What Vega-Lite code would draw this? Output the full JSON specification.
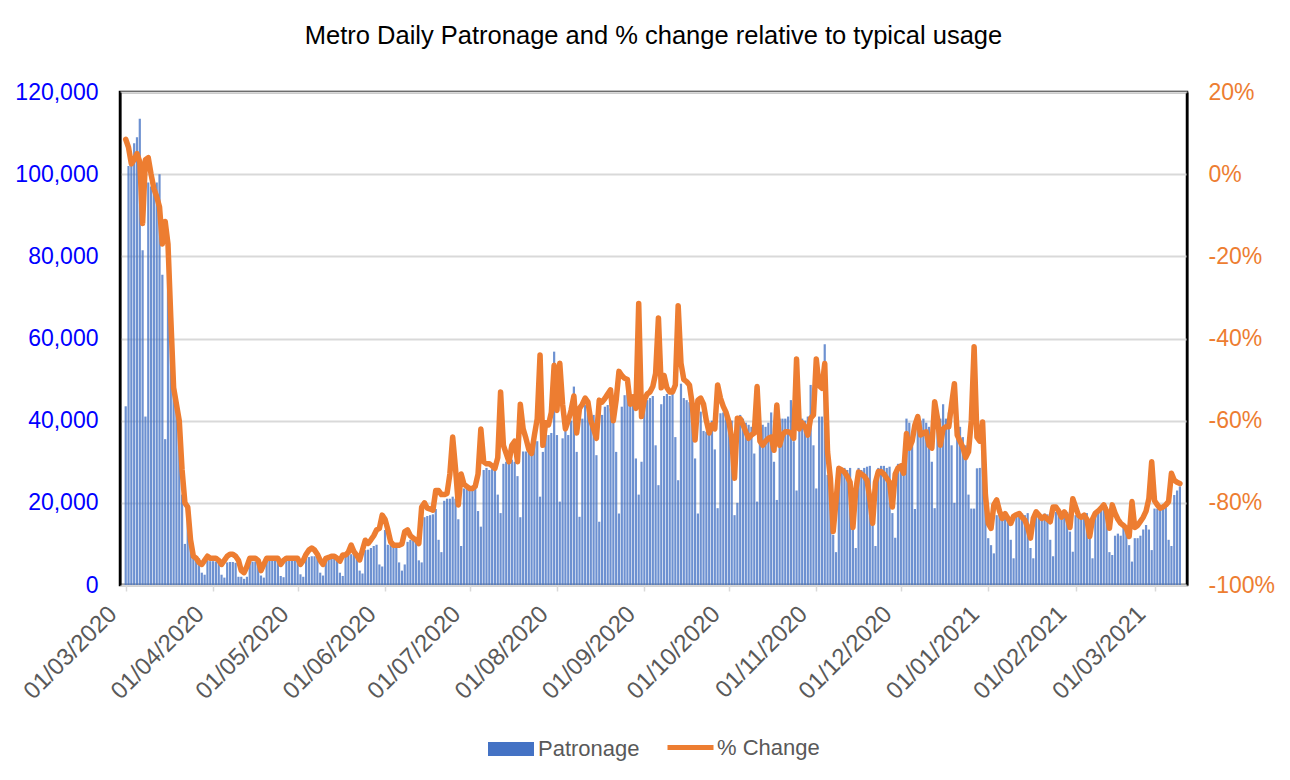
{
  "$schema": "https://vega.github.io/schema/vega-lite/v6.json",
  "width": 1067,
  "height": 493,
  "autosize": {"type": "none"},
  "padding": {"left": 120, "top": 92, "right": 103, "bottom": 195},
  "background": "white",
  "title": {"text": "Metro Daily Patronage and % change relative to typical usage", "font": "Liberation Sans", "fontSize": 25.5, "fontWeight": "normal", "color": "#000000", "frame": "group", "anchor": "middle", "baseline": "alphabetic", "offset": 45, "dy": 33},
  "data": {"values": [
{"date":"2020-03-01","patronage":43500,"pct":8.5},
{"date":"2020-03-02","patronage":102000,"pct":6.5},
{"date":"2020-03-03","patronage":104000,"pct":2.5},
{"date":"2020-03-04","patronage":107500,"pct":3.5},
{"date":"2020-03-05","patronage":109000,"pct":5},
{"date":"2020-03-06","patronage":113500,"pct":3},
{"date":"2020-03-07","patronage":81500,"pct":-12},
{"date":"2020-03-08","patronage":41000,"pct":3.5},
{"date":"2020-03-09","patronage":98000,"pct":4},
{"date":"2020-03-10","patronage":97000,"pct":0},
{"date":"2020-03-11","patronage":96500,"pct":-3.5},
{"date":"2020-03-12","patronage":98000,"pct":-5.5},
{"date":"2020-03-13","patronage":100000,"pct":-8},
{"date":"2020-03-14","patronage":75500,"pct":-17},
{"date":"2020-03-15","patronage":35500,"pct":-11.5},
{"date":"2020-03-16","patronage":80000,"pct":-17},
{"date":"2020-03-17","patronage":64000,"pct":-35},
{"date":"2020-03-18","patronage":47000,"pct":-52},
{"date":"2020-03-19","patronage":44000,"pct":-56},
{"date":"2020-03-20","patronage":40000,"pct":-60},
{"date":"2020-03-21","patronage":22000,"pct":-72},
{"date":"2020-03-22","patronage":10000,"pct":-80},
{"date":"2020-03-23","patronage":19000,"pct":-81},
{"date":"2020-03-24","patronage":11000,"pct":-89},
{"date":"2020-03-25","patronage":7500,"pct":-93},
{"date":"2020-03-26","patronage":7000,"pct":-93.5},
{"date":"2020-03-27","patronage":6500,"pct":-94.5},
{"date":"2020-03-28","patronage":3000,"pct":-95},
{"date":"2020-03-29","patronage":2500,"pct":-94},
{"date":"2020-03-30","patronage":6000,"pct":-93},
{"date":"2020-03-31","patronage":5800,"pct":-93.5},
{"date":"2020-04-01","patronage":5800,"pct":-93.5},
{"date":"2020-04-02","patronage":5700,"pct":-93.5},
{"date":"2020-04-03","patronage":5800,"pct":-94},
{"date":"2020-04-04","patronage":2500,"pct":-95},
{"date":"2020-04-05","patronage":1800,"pct":-94},
{"date":"2020-04-06","patronage":5500,"pct":-93},
{"date":"2020-04-07","patronage":5600,"pct":-92.5},
{"date":"2020-04-08","patronage":5600,"pct":-92.5},
{"date":"2020-04-09","patronage":5400,"pct":-93},
{"date":"2020-04-10","patronage":2000,"pct":-94},
{"date":"2020-04-11","patronage":2000,"pct":-96.5},
{"date":"2020-04-12","patronage":1500,"pct":-97},
{"date":"2020-04-13","patronage":2000,"pct":-95.5},
{"date":"2020-04-14","patronage":5600,"pct":-93.5},
{"date":"2020-04-15","patronage":5700,"pct":-93.5},
{"date":"2020-04-16","patronage":5700,"pct":-93.5},
{"date":"2020-04-17","patronage":5600,"pct":-94},
{"date":"2020-04-18","patronage":2300,"pct":-96.5},
{"date":"2020-04-19","patronage":1800,"pct":-95},
{"date":"2020-04-20","patronage":5800,"pct":-93.5},
{"date":"2020-04-21","patronage":5900,"pct":-93.5},
{"date":"2020-04-22","patronage":5900,"pct":-93.5},
{"date":"2020-04-23","patronage":6000,"pct":-93.5},
{"date":"2020-04-24","patronage":5800,"pct":-93.5},
{"date":"2020-04-25","patronage":2200,"pct":-95},
{"date":"2020-04-26","patronage":1900,"pct":-94},
{"date":"2020-04-27","patronage":6000,"pct":-93.5},
{"date":"2020-04-28","patronage":6100,"pct":-93.5},
{"date":"2020-04-29","patronage":6200,"pct":-93.5},
{"date":"2020-04-30","patronage":6200,"pct":-93.5},
{"date":"2020-05-01","patronage":6000,"pct":-93.5},
{"date":"2020-05-02","patronage":2600,"pct":-95},
{"date":"2020-05-03","patronage":2000,"pct":-94},
{"date":"2020-05-04","patronage":6500,"pct":-92.5},
{"date":"2020-05-05","patronage":6800,"pct":-91.5},
{"date":"2020-05-06","patronage":7000,"pct":-91},
{"date":"2020-05-07","patronage":7000,"pct":-91.5},
{"date":"2020-05-08","patronage":6800,"pct":-92.5},
{"date":"2020-05-09","patronage":3000,"pct":-94},
{"date":"2020-05-10","patronage":2300,"pct":-95},
{"date":"2020-05-11","patronage":6800,"pct":-93.5},
{"date":"2020-05-12","patronage":6800,"pct":-93.3},
{"date":"2020-05-13","patronage":6900,"pct":-93},
{"date":"2020-05-14","patronage":7000,"pct":-93},
{"date":"2020-05-15","patronage":6900,"pct":-93.5},
{"date":"2020-05-16","patronage":3000,"pct":-94.2},
{"date":"2020-05-17","patronage":2200,"pct":-92.7},
{"date":"2020-05-18","patronage":7300,"pct":-92.7},
{"date":"2020-05-19","patronage":7400,"pct":-92},
{"date":"2020-05-20","patronage":7500,"pct":-90.3},
{"date":"2020-05-21","patronage":7400,"pct":-91.9},
{"date":"2020-05-22","patronage":7300,"pct":-92.8},
{"date":"2020-05-23","patronage":3500,"pct":-93.9},
{"date":"2020-05-24","patronage":2800,"pct":-91.5},
{"date":"2020-05-25","patronage":8500,"pct":-89.1},
{"date":"2020-05-26","patronage":8600,"pct":-89.9},
{"date":"2020-05-27","patronage":9000,"pct":-89},
{"date":"2020-05-28","patronage":9500,"pct":-88},
{"date":"2020-05-29","patronage":9800,"pct":-86.6},
{"date":"2020-05-30","patronage":5000,"pct":-86.2},
{"date":"2020-05-31","patronage":4500,"pct":-83},
{"date":"2020-06-01","patronage":13400,"pct":-84},
{"date":"2020-06-02","patronage":9800,"pct":-86.5},
{"date":"2020-06-03","patronage":9700,"pct":-89.5},
{"date":"2020-06-04","patronage":9600,"pct":-90.3},
{"date":"2020-06-05","patronage":9500,"pct":-90.3},
{"date":"2020-06-06","patronage":5500,"pct":-90.3},
{"date":"2020-06-07","patronage":3500,"pct":-90},
{"date":"2020-06-08","patronage":5000,"pct":-87},
{"date":"2020-06-09","patronage":10500,"pct":-86.6},
{"date":"2020-06-10","patronage":11000,"pct":-88},
{"date":"2020-06-11","patronage":10800,"pct":-88.6},
{"date":"2020-06-12","patronage":10500,"pct":-89},
{"date":"2020-06-13","patronage":6000,"pct":-89.9},
{"date":"2020-06-14","patronage":5500,"pct":-81},
{"date":"2020-06-15","patronage":16500,"pct":-80},
{"date":"2020-06-16","patronage":16800,"pct":-81.3},
{"date":"2020-06-17","patronage":17000,"pct":-81.5},
{"date":"2020-06-18","patronage":17200,"pct":-81.8},
{"date":"2020-06-19","patronage":18500,"pct":-77},
{"date":"2020-06-20","patronage":11000,"pct":-77},
{"date":"2020-06-21","patronage":8000,"pct":-78},
{"date":"2020-06-22","patronage":20500,"pct":-78},
{"date":"2020-06-23","patronage":21000,"pct":-77.7},
{"date":"2020-06-24","patronage":21000,"pct":-73},
{"date":"2020-06-25","patronage":21500,"pct":-64},
{"date":"2020-06-26","patronage":21000,"pct":-71.6},
{"date":"2020-06-27","patronage":16000,"pct":-80.5},
{"date":"2020-06-28","patronage":9500,"pct":-73},
{"date":"2020-06-29","patronage":23500,"pct":-75.5},
{"date":"2020-06-30","patronage":24000,"pct":-76},
{"date":"2020-07-01","patronage":24000,"pct":-76.5},
{"date":"2020-07-02","patronage":24000,"pct":-76.5},
{"date":"2020-07-03","patronage":24300,"pct":-76},
{"date":"2020-07-04","patronage":18000,"pct":-73},
{"date":"2020-07-05","patronage":14200,"pct":-62},
{"date":"2020-07-06","patronage":28000,"pct":-70},
{"date":"2020-07-07","patronage":28500,"pct":-70.5},
{"date":"2020-07-08","patronage":28000,"pct":-70.5},
{"date":"2020-07-09","patronage":28300,"pct":-71},
{"date":"2020-07-10","patronage":28500,"pct":-71.6},
{"date":"2020-07-11","patronage":22000,"pct":-69},
{"date":"2020-07-12","patronage":17500,"pct":-53},
{"date":"2020-07-13","patronage":29500,"pct":-66},
{"date":"2020-07-14","patronage":30000,"pct":-68},
{"date":"2020-07-15","patronage":29700,"pct":-70},
{"date":"2020-07-16","patronage":30500,"pct":-66},
{"date":"2020-07-17","patronage":30000,"pct":-65},
{"date":"2020-07-18","patronage":26500,"pct":-70},
{"date":"2020-07-19","patronage":16500,"pct":-56},
{"date":"2020-07-20","patronage":32500,"pct":-62},
{"date":"2020-07-21","patronage":32500,"pct":-64.3},
{"date":"2020-07-22","patronage":33000,"pct":-67},
{"date":"2020-07-23","patronage":34000,"pct":-68},
{"date":"2020-07-24","patronage":35000,"pct":-63.5},
{"date":"2020-07-25","patronage":35000,"pct":-59.5},
{"date":"2020-07-26","patronage":21500,"pct":-44},
{"date":"2020-07-27","patronage":32400,"pct":-66},
{"date":"2020-07-28","patronage":37700,"pct":-60.5},
{"date":"2020-07-29","patronage":36500,"pct":-61},
{"date":"2020-07-30","patronage":37000,"pct":-58},
{"date":"2020-07-31","patronage":56800,"pct":-46.5},
{"date":"2020-08-01","patronage":36500,"pct":-57.5},
{"date":"2020-08-02","patronage":20300,"pct":-46},
{"date":"2020-08-03","patronage":35700,"pct":-56},
{"date":"2020-08-04","patronage":38500,"pct":-62},
{"date":"2020-08-05","patronage":36500,"pct":-60},
{"date":"2020-08-06","patronage":40000,"pct":-57.5},
{"date":"2020-08-07","patronage":48300,"pct":-54},
{"date":"2020-08-08","patronage":32400,"pct":-63},
{"date":"2020-08-09","patronage":16600,"pct":-57},
{"date":"2020-08-10","patronage":40500,"pct":-56},
{"date":"2020-08-11","patronage":43800,"pct":-54.5},
{"date":"2020-08-12","patronage":41800,"pct":-55.5},
{"date":"2020-08-13","patronage":41400,"pct":-60},
{"date":"2020-08-14","patronage":41400,"pct":-62},
{"date":"2020-08-15","patronage":31600,"pct":-64.3},
{"date":"2020-08-16","patronage":15400,"pct":-55},
{"date":"2020-08-17","patronage":41400,"pct":-55.5},
{"date":"2020-08-18","patronage":43400,"pct":-54.6},
{"date":"2020-08-19","patronage":43800,"pct":-53.5},
{"date":"2020-08-20","patronage":43000,"pct":-52.5},
{"date":"2020-08-21","patronage":40500,"pct":-60},
{"date":"2020-08-22","patronage":32400,"pct":-55},
{"date":"2020-08-23","patronage":17400,"pct":-48},
{"date":"2020-08-24","patronage":43400,"pct":-49},
{"date":"2020-08-25","patronage":46200,"pct":-49.7},
{"date":"2020-08-26","patronage":47900,"pct":-50},
{"date":"2020-08-27","patronage":43800,"pct":-56},
{"date":"2020-08-28","patronage":43800,"pct":-54.2},
{"date":"2020-08-29","patronage":30800,"pct":-57},
{"date":"2020-08-30","patronage":22000,"pct":-31.5},
{"date":"2020-08-31","patronage":30000,"pct":-59},
{"date":"2020-09-01","patronage":44000,"pct":-55},
{"date":"2020-09-02","patronage":45000,"pct":-53.5},
{"date":"2020-09-03","patronage":45500,"pct":-53},
{"date":"2020-09-04","patronage":46000,"pct":-51.7},
{"date":"2020-09-05","patronage":34000,"pct":-48.5},
{"date":"2020-09-06","patronage":24300,"pct":-35},
{"date":"2020-09-07","patronage":44000,"pct":-52},
{"date":"2020-09-08","patronage":46000,"pct":-49},
{"date":"2020-09-09","patronage":46500,"pct":-52},
{"date":"2020-09-10","patronage":46000,"pct":-53},
{"date":"2020-09-11","patronage":46500,"pct":-53},
{"date":"2020-09-12","patronage":36000,"pct":-51.3},
{"date":"2020-09-13","patronage":25500,"pct":-32},
{"date":"2020-09-14","patronage":49000,"pct":-46},
{"date":"2020-09-15","patronage":45500,"pct":-50},
{"date":"2020-09-16","patronage":45000,"pct":-50.5},
{"date":"2020-09-17","patronage":44500,"pct":-51.3},
{"date":"2020-09-18","patronage":43000,"pct":-56},
{"date":"2020-09-19","patronage":30800,"pct":-64.7},
{"date":"2020-09-20","patronage":17400,"pct":-55},
{"date":"2020-09-21","patronage":42200,"pct":-54.5},
{"date":"2020-09-22","patronage":37500,"pct":-56},
{"date":"2020-09-23","patronage":37300,"pct":-60},
{"date":"2020-09-24","patronage":37000,"pct":-63},
{"date":"2020-09-25","patronage":40000,"pct":-61},
{"date":"2020-09-26","patronage":33000,"pct":-62},
{"date":"2020-09-27","patronage":18700,"pct":-51.3},
{"date":"2020-09-28","patronage":41800,"pct":-54.5},
{"date":"2020-09-29","patronage":42000,"pct":-56.5},
{"date":"2020-09-30","patronage":41500,"pct":-58},
{"date":"2020-10-01","patronage":41000,"pct":-60.3},
{"date":"2020-10-02","patronage":40000,"pct":-64.3},
{"date":"2020-10-03","patronage":17000,"pct":-74},
{"date":"2020-10-04","patronage":20000,"pct":-59.4},
{"date":"2020-10-05","patronage":41400,"pct":-59.5},
{"date":"2020-10-06","patronage":40500,"pct":-61},
{"date":"2020-10-07","patronage":39500,"pct":-62.7},
{"date":"2020-10-08","patronage":39000,"pct":-64.3},
{"date":"2020-10-09","patronage":38500,"pct":-63.5},
{"date":"2020-10-10","patronage":32000,"pct":-63},
{"date":"2020-10-11","patronage":20300,"pct":-51.7},
{"date":"2020-10-12","patronage":39000,"pct":-65},
{"date":"2020-10-13","patronage":39000,"pct":-66},
{"date":"2020-10-14","patronage":38500,"pct":-65},
{"date":"2020-10-15","patronage":39500,"pct":-64.3},
{"date":"2020-10-16","patronage":42000,"pct":-64},
{"date":"2020-10-17","patronage":30000,"pct":-67.2},
{"date":"2020-10-18","patronage":20700,"pct":-56.2},
{"date":"2020-10-19","patronage":40500,"pct":-66},
{"date":"2020-10-20","patronage":40500,"pct":-63.5},
{"date":"2020-10-21","patronage":40500,"pct":-62.7},
{"date":"2020-10-22","patronage":41000,"pct":-62.7},
{"date":"2020-10-23","patronage":45000,"pct":-63},
{"date":"2020-10-24","patronage":35000,"pct":-64.3},
{"date":"2020-10-25","patronage":23000,"pct":-45},
{"date":"2020-10-26","patronage":40500,"pct":-62},
{"date":"2020-10-27","patronage":40500,"pct":-60.5},
{"date":"2020-10-28","patronage":40000,"pct":-61.5},
{"date":"2020-10-29","patronage":41000,"pct":-63.5},
{"date":"2020-10-30","patronage":48700,"pct":-59.4},
{"date":"2020-10-31","patronage":34000,"pct":-58.6},
{"date":"2020-11-01","patronage":23500,"pct":-45},
{"date":"2020-11-02","patronage":41000,"pct":-51.5},
{"date":"2020-11-03","patronage":41000,"pct":-52.1},
{"date":"2020-11-04","patronage":58600,"pct":-46.1},
{"date":"2020-11-05","patronage":26800,"pct":-67.6},
{"date":"2020-11-06","patronage":21900,"pct":-74},
{"date":"2020-11-07","patronage":12200,"pct":-87},
{"date":"2020-11-08","patronage":8000,"pct":-79.7},
{"date":"2020-11-09","patronage":27500,"pct":-71.6},
{"date":"2020-11-10","patronage":28000,"pct":-72},
{"date":"2020-11-11","patronage":28500,"pct":-72.5},
{"date":"2020-11-12","patronage":28000,"pct":-73.6},
{"date":"2020-11-13","patronage":28500,"pct":-75},
{"date":"2020-11-14","patronage":16000,"pct":-86},
{"date":"2020-11-15","patronage":9000,"pct":-77},
{"date":"2020-11-16","patronage":28500,"pct":-72.5},
{"date":"2020-11-17","patronage":28000,"pct":-73},
{"date":"2020-11-18","patronage":28500,"pct":-73.5},
{"date":"2020-11-19","patronage":28800,"pct":-74.5},
{"date":"2020-11-20","patronage":29000,"pct":-79},
{"date":"2020-11-21","patronage":15000,"pct":-85},
{"date":"2020-11-22","patronage":9500,"pct":-75},
{"date":"2020-11-23","patronage":28500,"pct":-72.4},
{"date":"2020-11-24","patronage":29000,"pct":-72.4},
{"date":"2020-11-25","patronage":29000,"pct":-73},
{"date":"2020-11-26","patronage":28500,"pct":-74},
{"date":"2020-11-27","patronage":28800,"pct":-75},
{"date":"2020-11-28","patronage":17500,"pct":-81},
{"date":"2020-11-29","patronage":11500,"pct":-73},
{"date":"2020-11-30","patronage":29500,"pct":-71.5},
{"date":"2020-12-01","patronage":29500,"pct":-71},
{"date":"2020-12-02","patronage":31000,"pct":-72.8},
{"date":"2020-12-03","patronage":40500,"pct":-63.1},
{"date":"2020-12-04","patronage":39500,"pct":-66.7},
{"date":"2020-12-05","patronage":34000,"pct":-65},
{"date":"2020-12-06","patronage":18500,"pct":-61},
{"date":"2020-12-07","patronage":40500,"pct":-59},
{"date":"2020-12-08","patronage":40000,"pct":-63.5},
{"date":"2020-12-09","patronage":40500,"pct":-63},
{"date":"2020-12-10","patronage":39500,"pct":-62.7},
{"date":"2020-12-11","patronage":38500,"pct":-66},
{"date":"2020-12-12","patronage":30000,"pct":-66.7},
{"date":"2020-12-13","patronage":18700,"pct":-55.4},
{"date":"2020-12-14","patronage":41000,"pct":-59.4},
{"date":"2020-12-15","patronage":40500,"pct":-66},
{"date":"2020-12-16","patronage":44000,"pct":-62},
{"date":"2020-12-17","patronage":40500,"pct":-61.5},
{"date":"2020-12-18","patronage":42000,"pct":-61.5},
{"date":"2020-12-19","patronage":34000,"pct":-56},
{"date":"2020-12-20","patronage":20000,"pct":-51},
{"date":"2020-12-21","patronage":37000,"pct":-63.5},
{"date":"2020-12-22","patronage":38500,"pct":-65},
{"date":"2020-12-23","patronage":36000,"pct":-66.5},
{"date":"2020-12-24","patronage":34000,"pct":-69},
{"date":"2020-12-25","patronage":22000,"pct":-67.6},
{"date":"2020-12-26","patronage":18600,"pct":-60},
{"date":"2020-12-27","patronage":18600,"pct":-42},
{"date":"2020-12-28","patronage":28400,"pct":-64},
{"date":"2020-12-29","patronage":28500,"pct":-65},
{"date":"2020-12-30","patronage":32400,"pct":-60.3},
{"date":"2020-12-31","patronage":25000,"pct":-78},
{"date":"2021-01-01","patronage":11400,"pct":-85},
{"date":"2021-01-02","patronage":9700,"pct":-86.2},
{"date":"2021-01-03","patronage":7700,"pct":-80.5},
{"date":"2021-01-04","patronage":17000,"pct":-79.3},
{"date":"2021-01-05","patronage":17200,"pct":-82},
{"date":"2021-01-06","patronage":17000,"pct":-83.8},
{"date":"2021-01-07","patronage":17300,"pct":-82.6},
{"date":"2021-01-08","patronage":17000,"pct":-83.8},
{"date":"2021-01-09","patronage":11000,"pct":-85},
{"date":"2021-01-10","patronage":6500,"pct":-83.3},
{"date":"2021-01-11","patronage":17400,"pct":-82.9},
{"date":"2021-01-12","patronage":17500,"pct":-82.6},
{"date":"2021-01-13","patronage":17400,"pct":-83.5},
{"date":"2021-01-14","patronage":17000,"pct":-84.2},
{"date":"2021-01-15","patronage":17500,"pct":-86},
{"date":"2021-01-16","patronage":9000,"pct":-88.6},
{"date":"2021-01-17","patronage":6500,"pct":-83.8},
{"date":"2021-01-18","patronage":17500,"pct":-82.2},
{"date":"2021-01-19","patronage":17300,"pct":-83},
{"date":"2021-01-20","patronage":17000,"pct":-83.8},
{"date":"2021-01-21","patronage":17400,"pct":-83.3},
{"date":"2021-01-22","patronage":17200,"pct":-84},
{"date":"2021-01-23","patronage":11000,"pct":-84.6},
{"date":"2021-01-24","patronage":7000,"pct":-81},
{"date":"2021-01-25","patronage":17800,"pct":-81},
{"date":"2021-01-26","patronage":17500,"pct":-82},
{"date":"2021-01-27","patronage":17300,"pct":-83.5},
{"date":"2021-01-28","patronage":17500,"pct":-82.2},
{"date":"2021-01-29","patronage":17800,"pct":-83.5},
{"date":"2021-01-30","patronage":13000,"pct":-86},
{"date":"2021-01-31","patronage":8100,"pct":-79},
{"date":"2021-02-01","patronage":17000,"pct":-81},
{"date":"2021-02-02","patronage":17200,"pct":-83},
{"date":"2021-02-03","patronage":17000,"pct":-83.5},
{"date":"2021-02-04","patronage":17300,"pct":-83},
{"date":"2021-02-05","patronage":17500,"pct":-84},
{"date":"2021-02-06","patronage":11400,"pct":-88.2},
{"date":"2021-02-07","patronage":6500,"pct":-84},
{"date":"2021-02-08","patronage":17500,"pct":-82.5},
{"date":"2021-02-09","patronage":18000,"pct":-82},
{"date":"2021-02-10","patronage":18600,"pct":-81.3},
{"date":"2021-02-11","patronage":18800,"pct":-80.5},
{"date":"2021-02-12","patronage":19000,"pct":-82},
{"date":"2021-02-13","patronage":8000,"pct":-86.2},
{"date":"2021-02-14","patronage":7300,"pct":-80.5},
{"date":"2021-02-15","patronage":12000,"pct":-82.5},
{"date":"2021-02-16","patronage":12500,"pct":-84},
{"date":"2021-02-17","patronage":12000,"pct":-85},
{"date":"2021-02-18","patronage":14500,"pct":-85.5},
{"date":"2021-02-19","patronage":14500,"pct":-86.2},
{"date":"2021-02-20","patronage":9700,"pct":-88.2},
{"date":"2021-02-21","patronage":5700,"pct":-79.7},
{"date":"2021-02-22","patronage":11400,"pct":-86},
{"date":"2021-02-23","patronage":11400,"pct":-85.5},
{"date":"2021-02-24","patronage":12000,"pct":-84.5},
{"date":"2021-02-25","patronage":13500,"pct":-83.5},
{"date":"2021-02-26","patronage":14600,"pct":-82},
{"date":"2021-02-27","patronage":13500,"pct":-79},
{"date":"2021-02-28","patronage":8500,"pct":-70},
{"date":"2021-03-01","patronage":18600,"pct":-79.5},
{"date":"2021-03-02","patronage":18600,"pct":-80.5},
{"date":"2021-03-03","patronage":18600,"pct":-81.3},
{"date":"2021-03-04","patronage":18800,"pct":-81},
{"date":"2021-03-05","patronage":19000,"pct":-80.5},
{"date":"2021-03-06","patronage":11000,"pct":-79.7},
{"date":"2021-03-07","patronage":9500,"pct":-72.8},
{"date":"2021-03-08","patronage":21900,"pct":-74.5},
{"date":"2021-03-09","patronage":23000,"pct":-75},
{"date":"2021-03-10","patronage":24000,"pct":-75.3}
  ]},
  "layer": [
    {
      "mark": {"type": "bar", "width": 2.2, "opacity": 0.78},
      "encoding": {
        "x": {
          "field": "date", "type": "temporal",
          "scale": {"type": "utc", "domain": [{"year": 2020, "month": 2, "date": 29, "hours": 18, "utc": true}, {"year": 2021, "month": 3, "date": 10, "hours": 18, "utc": true}]},
          "axis": {
            "title": null,
            "values": [
              {"year": 2020, "month": 3, "date": 1, "utc": true},
              {"year": 2020, "month": 4, "date": 1, "utc": true},
              {"year": 2020, "month": 5, "date": 1, "utc": true},
              {"year": 2020, "month": 6, "date": 1, "utc": true},
              {"year": 2020, "month": 7, "date": 1, "utc": true},
              {"year": 2020, "month": 8, "date": 1, "utc": true},
              {"year": 2020, "month": 9, "date": 1, "utc": true},
              {"year": 2020, "month": 10, "date": 1, "utc": true},
              {"year": 2020, "month": 11, "date": 1, "utc": true},
              {"year": 2020, "month": 12, "date": 1, "utc": true},
              {"year": 2021, "month": 1, "date": 1, "utc": true},
              {"year": 2021, "month": 2, "date": 1, "utc": true},
              {"year": 2021, "month": 3, "date": 1, "utc": true}
            ],
            "labelExpr": "utcFormat(datum.value, '%d/%m/%Y')",
            "labelAngle": -45, "labelAlign": "right", "labelBaseline": "middle",
            "labelFont": "Liberation Sans", "labelFontSize": 24, "labelColor": "#595959",
            "labelFlush": false, "labelOverlap": false, "labelBound": false, "labelPadding": 19, "labelOffset": -13,
            "grid": false, "domainColor": "#D9D9D9", "domainWidth": 2,
            "tickColor": "#D9D9D9", "tickSize": 6, "tickWidth": 1.5
          }
        },
        "y": {
          "field": "patronage", "type": "quantitative",
          "scale": {"domain": [0, 120000], "nice": false},
          "axis": {
            "title": null,
            "values": [0, 20000, 40000, 60000, 80000, 100000, 120000],
            "format": ",d",
            "labelFont": "Liberation Sans", "labelFontSize": 23, "labelColor": "#0000FF",
            "labelPadding": 22, "ticks": false,
            "domainColor": "#000000", "domainWidth": 2,
            "grid": true, "gridColor": "#D9D9D9", "gridWidth": 2
          }
        },
        "fill": {
          "datum": "Patronage",
          "scale": {"range": ["#4472C4"]},
          "legend": {
            "title": null, "orient": "none", "legendX": 368, "legendY": 634,
            "symbolType": "M-1,-0.3H1V0.3H-1Z", "symbolSize": 2116, "symbolStrokeWidth": 0, "symbolOpacity": 1,
            "labelFont": "Liberation Sans", "labelFontSize": 22, "labelColor": "#595959", "labelOffset": 4
          }
        }
      }
    },
    {
      "mark": {"type": "line", "strokeWidth": 5.5, "strokeJoin": "round", "strokeCap": "round"},
      "encoding": {
        "x": {"field": "date", "type": "temporal"},
        "y": {
          "field": "pct", "type": "quantitative",
          "scale": {"domain": [-100, 20], "nice": false},
          "axis": {
            "title": null, "orient": "right",
            "values": [-100, -80, -60, -40, -20, 0, 20],
            "labelExpr": "datum.value + '%'",
            "labelFont": "Liberation Sans", "labelFontSize": 23, "labelColor": "#ED7D31",
            "labelAlign": "left", "labelPadding": 21, "ticks": false,
            "domainColor": "#000000", "domainWidth": 2, "grid": false
          }
        },
        "stroke": {
          "datum": "% Change",
          "scale": {"range": ["#ED7D31"]},
          "legend": {
            "title": null, "orient": "none", "legendX": 545, "legendY": 630,
            "symbolType": "stroke", "symbolSize": 2116, "symbolStrokeWidth": 5,
            "labelFont": "Liberation Sans", "labelFontSize": 22, "labelColor": "#595959", "labelOffset": 1
          }
        }
      }
    }
  ],
  "resolve": {"scale": {"y": "independent"}},
  "config": {"view": {"stroke": "#000000", "strokeWidth": 2.5}}
}
